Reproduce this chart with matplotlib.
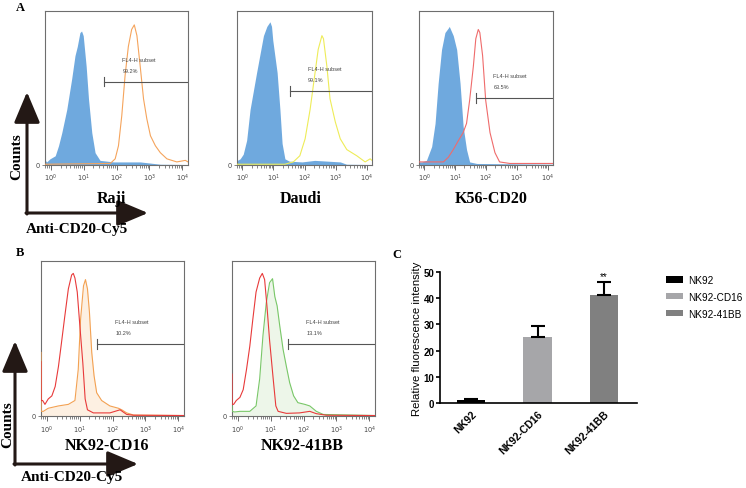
import numpy as np
import matplotlib
matplotlib.use("Agg")
import matplotlib.pyplot as plt

# ---------------- data (log10 decade, % of panel height) ----------------
raji_ctrl_x = [-0.17, -0.16, -0.12, -0.02, 0.14, 0.24, 0.34, 0.49, 0.64, 0.74, 0.81, 0.89, 0.94, 0.99, 1.08, 1.15, 1.25, 1.35, 1.50, 1.91, 2.31, 2.72, 3.33, 4.17]
raji_ctrl_y = [21, 3, 2, 4, 6, 12.5, 21, 36, 56, 71, 77, 86, 87, 84, 64, 43, 21, 8, 3, 2, 2, 2, 0.5, 0.3]
raji_cd20_x = [-0.17, 1.81, 1.96, 2.06, 2.16, 2.26, 2.36, 2.46, 2.54, 2.62, 2.72, 2.82, 2.92, 3.03, 3.18, 3.33, 3.53, 3.83, 4.09, 4.17]
raji_cd20_y = [0.5, 1, 4, 12.5, 32, 58, 77, 88, 91, 84, 64, 43, 30, 19, 12.5, 8, 4, 2, 3, 2]

daudi_ctrl_x = [-0.17, -0.16, -0.07, 0.03, 0.14, 0.25, 0.46, 0.68, 0.79, 0.89, 0.94, 0.98, 1.12, 1.21, 1.28, 1.37, 1.51, 1.92, 2.33, 2.74, 3.15, 3.35, 4.17]
daudi_ctrl_y = [16, 3, 4, 7, 16, 36, 60, 84, 90, 93, 90, 81, 60, 36, 14, 4, 2.5, 2, 3, 2.5, 2, 0.5, 0.3]
daudi_cd20_x = [-0.17, 1.37, 1.64, 1.85, 2.02, 2.18, 2.34, 2.44, 2.56, 2.61, 2.72, 2.82, 2.99, 3.15, 3.36, 3.68, 3.95, 4.11, 4.17]
daudi_cd20_y = [0.5, 0.5, 2, 6, 17, 36, 60, 75, 84, 82, 64, 43, 28, 17, 10, 6, 2, 4, 3]

k56_ctrl_x = [-0.17, -0.16, -0.08, 0.07, 0.24, 0.35, 0.45, 0.56, 0.67, 0.78, 0.81, 0.94, 1.05, 1.16, 1.26, 1.37, 1.47, 1.70, 4.17]
k56_ctrl_y = [5.4, 2, 2, 3, 12, 27, 53, 75, 86, 89, 90, 84, 75, 53, 25, 10, 2, 1, 0.5]
k56_cd20_x = [-0.17, 0.62, 0.78, 0.94, 1.11, 1.26, 1.37, 1.47, 1.59, 1.67, 1.75, 1.80, 1.89, 1.99, 2.13, 2.29, 2.44, 2.77, 4.17]
k56_cd20_y = [2, 2, 5, 10, 16, 21, 27, 42, 64, 82, 88, 86, 71, 42, 21, 8, 2, 1, 1]

cd16_ctrl_x = [-0.17, -0.165, -0.12, -0.05, 0.05, 0.16, 0.26, 0.36, 0.45, 0.55, 0.66, 0.76, 0.81, 0.86, 0.93, 1.01, 1.10, 1.17, 1.24, 1.42, 1.92, 2.23, 2.43, 2.64, 4.17]
cd16_ctrl_y = [35, 10, 10, 7.5, 11, 13, 19, 32, 47, 64, 82, 91, 92, 89, 80, 58, 34, 11, 4, 2, 2, 4, 1, 0.5, 0.3]
cd16_x = [-0.17, -0.165, -0.10, 0.05, 0.36, 0.66, 0.86, 0.96, 1.03, 1.12, 1.18, 1.24, 1.30, 1.37, 1.44, 1.52, 1.67, 1.92, 2.18, 2.28, 2.43, 2.64, 4.17]
cd16_y = [41, 3, 3, 5, 6.5, 7.5, 10, 30, 62, 84, 88, 82, 67, 41, 26, 15, 10, 6.5, 5, 4, 2, 0.6, 0.3]

bb_ctrl_x = [-0.17, -0.165, -0.12, -0.04, 0.07, 0.17, 0.27, 0.37, 0.46, 0.56, 0.67, 0.75, 0.82, 0.89, 0.97, 1.08, 1.16, 1.23, 1.48, 1.88, 2.19, 2.39, 2.69, 4.17]
bb_ctrl_y = [27, 7.5, 7.5, 10, 12, 17, 30, 45, 62, 80, 89, 92, 88, 71, 49, 24, 6.5, 3, 1.7, 2, 3, 1.5, 0.5, 0.3]
bb_x = [-0.17, -0.165, -0.09, 0.07, 0.37, 0.56, 0.67, 0.77, 0.87, 0.97, 1.06, 1.13, 1.20, 1.28, 1.38, 1.48, 1.58, 1.70, 1.83, 2.04, 2.19, 2.39, 2.60, 4.17]
bb_y = [6.5, 3, 2.6, 3, 3, 6.5, 24, 52, 73, 86, 88.6, 77, 71, 58, 43, 32, 21.5, 13, 8.6, 7.5, 6.5, 3, 1, 0.3]

gate_pct = ["99.2%", "99.1%", "63.5%", "10.2%", "13.1%"]
gate_start = [1.62, 1.54, 1.68, 1.52, 1.52]
gate_level = [54, 48, 43.5, 46.5, 46.5]

panel_names_a = ["Raji", "Daudi", "K56-CD20"]
panel_names_b = ["NK92-CD16", "NK92-41BB"]

bar_labels = ["NK92", "NK92-CD16", "NK92-41BB"]
bar_values = [1.1, 25.3, 41.3]
bar_errors = [0.3, 4.0, 4.7]
bar_colors = ["#000000", "#a6a6a9", "#808080"]

# ---------------- figure ----------------
W, H = 746, 489
fig = plt.figure(figsize=(W / 100, H / 100), dpi=100)

def rect(l, t, r, b):
    return [l / W, (H - b) / H, (r - l) / W, (b - t) / H]

XMIN, XMAX = -0.17, 4.17
major = [0, 1, 2, 3, 4]
minor = [np.log10(k) + n for n in range(-1, 5) for k in range(2, 10)
         if XMIN < np.log10(k) + n < XMAX]

def flow_axes(r, pad):
    ax = fig.add_axes(r)
    ax.set_xlim(XMIN, XMAX)
    ax.set_ylim(0, 100)
    for s in ax.spines.values():
        s.set_color("#6e6e6e")
        s.set_linewidth(0.8)
    ax.set_xticks(major)
    ax.set_xticklabels([r"$10^{%d}$" % m for m in major], fontsize=4.8, color="#444444")
    ax.set_xticks(minor, minor=True)
    ax.tick_params(axis="x", which="major", length=3.5, width=0.6, color="#555555", pad=pad)
    ax.tick_params(axis="x", which="minor", length=2, width=0.5, color="#555555")
    ax.set_yticks([0])
    ax.set_yticklabels(["0"], fontsize=4.8, color="#444444")
    ax.tick_params(axis="y", length=2, width=0.5, color="#555555", pad=2)
    return ax

def gate(ax, x0, y, pct):
    ax.plot([x0, XMAX], [y, y], color="#555555", lw=0.8, zorder=5)
    ax.plot([x0, x0], [y - 3, y + 3], color="#555555", lw=0.8, zorder=5)
    tx = x0 + 0.56
    ax.text(tx, y + 14.5, "FL4-H subset", fontsize=4, color="#444444", va="center", ha="left",
            family="Liberation Sans")
    ax.text(tx, y + 7.5, pct, fontsize=4, color="#444444", va="center", ha="left",
            family="Liberation Sans")

blue = "#6fa9de"
a_rects = [rect(45, 12, 188, 166), rect(237, 12, 372, 166), rect(419, 12, 553, 166)]
a_ctrl = [(raji_ctrl_x, raji_ctrl_y), (daudi_ctrl_x, daudi_ctrl_y), (k56_ctrl_x, k56_ctrl_y)]
a_samp = [(raji_cd20_x, raji_cd20_y), (daudi_cd20_x, daudi_cd20_y), (k56_cd20_x, k56_cd20_y)]
a_cols = ["#f5a45c", "#eeec58", "#ef6b6b"]
for i in range(3):
    ax = flow_axes(a_rects[i], 1.5)
    ax.fill_between(a_ctrl[i][0], a_ctrl[i][1], 0, color=blue, lw=0, zorder=2)
    ax.plot(a_samp[i][0], a_samp[i][1], color=a_cols[i], lw=0.8, zorder=3)
    gate(ax, gate_start[i], gate_level[i], gate_pct[i])

b_rects = [rect(41, 262, 184, 417), rect(232, 262, 375, 417)]
b_ctrl = [(cd16_ctrl_x, cd16_ctrl_y), (bb_ctrl_x, bb_ctrl_y)]
b_samp = [(cd16_x, cd16_y), (bb_x, bb_y)]
b_line = ["#f3a152", "#79c768"]
b_fill = ["#fdf0e2", "#edf6e9"]
for i in range(2):
    ax = flow_axes(b_rects[i], 2.0)
    ax.fill_between(b_samp[i][0], b_samp[i][1], 0, color=b_fill[i], lw=0, zorder=2)
    ax.plot(b_samp[i][0], b_samp[i][1], color=b_line[i], lw=0.8, zorder=3)
    ax.plot(b_ctrl[i][0], b_ctrl[i][1], color="#e83a3a", lw=0.8, zorder=4)
    gate(ax, gate_start[3 + i], gate_level[3 + i], gate_pct[3 + i])

# ---------------- bar chart C ----------------
axc = fig.add_axes(rect(440, 273, 637, 404))
xpos = np.arange(len(bar_labels))
bars = axc.bar(xpos, bar_values, width=0.43, color=bar_colors,
               yerr=[[0] * len(bar_errors), bar_errors],
               error_kw=dict(ecolor="black", elinewidth=1.5, capsize=5, capthick=1.5))
axc.set_xlim(-0.47, 2.5)
axc.set_ylim(0, 50)
for s in ["top", "right"]:
    axc.spines[s].set_visible(False)
for s in ["left", "bottom"]:
    axc.spines[s].set_linewidth(1.2)
axc.set_yticks(range(0, 51, 10))
axc.set_yticklabels([str(v) for v in range(0, 51, 10)], fontsize=7, fontweight="bold",
                    family="Liberation Sans")
axc.tick_params(axis="y", length=3, width=1.2, pad=1)
axc.set_xticks(xpos)
axc.set_xticklabels(bar_labels, rotation=45, ha="right", va="top", rotation_mode="anchor",
                    fontsize=7.5, fontweight="bold", family="Liberation Sans")
axc.tick_params(axis="x", length=0, pad=4)
axc.set_ylabel("Relative fluorescence intensity", fontsize=8.2, family="Liberation Sans", labelpad=1)
axc.text(xpos[2], 48.6, "**", ha="center", va="center", fontsize=7, family="Liberation Sans")
axc.legend(list(bars.patches), bar_labels, loc="upper left", bbox_to_anchor=(666 / W, (H - 276) / H),
           bbox_transform=fig.transFigure, frameon=False, borderpad=0, borderaxespad=0,
           handlelength=1.7, handleheight=0.6, handletextpad=0.5, labelspacing=0.68,
           prop=dict(family="Liberation Sans", size=7.2))

# ---------------- overlay: arrows, labels ----------------
ov = fig.add_axes([0, 0, 1, 1], zorder=10)
ov.set_xlim(0, W)
ov.set_ylim(H, 0)
ov.axis("off")
ov.patch.set_alpha(0)

ac = "#231815"
aprops = dict(arrowstyle="-|>,head_length=0.95,head_width=0.4", lw=2.2, color=ac,
              mutation_scale=20, shrinkA=0, shrinkB=0)
for (ox, oy, vtip, htip) in [(27, 214, 93, 148), (15, 465, 342, 138)]:
    ov.annotate("", xy=(ox, vtip), xytext=(ox, oy + 1), arrowprops=aprops)
    ov.annotate("", xy=(htip, oy), xytext=(ox - 1, oy), arrowprops=aprops)

serif = dict(family="Liberation Serif", fontweight="bold", color="black")
ov.text(17, 157, "Counts", rotation=90, ha="center", va="center", fontsize=11, **serif)
ov.text(8, 425, "Counts", rotation=90, ha="center", va="center", fontsize=11, **serif)
ov.text(77, 233, "Anti-CD20-Cy5", ha="center", va="baseline", fontsize=11, **serif)
ov.text(72, 481, "Anti-CD20-Cy5", ha="center", va="baseline", fontsize=11, **serif)
for name, cx in zip(panel_names_a, [111, 301, 491]):
    ov.text(cx, 203, name, ha="center", va="baseline", fontsize=11.5, **serif)
for name, cx in zip(panel_names_b, [107, 302]):
    ov.text(cx, 450, name, ha="center", va="baseline", fontsize=11.5, **serif)
ov.text(20, 8, "A", ha="center", va="center", fontsize=9, **serif)
ov.text(20, 253, "B", ha="center", va="center", fontsize=9, **serif)
ov.text(397, 255, "C", ha="center", va="center", fontsize=9, **serif)

fig.savefig("out.png", dpi=100)
